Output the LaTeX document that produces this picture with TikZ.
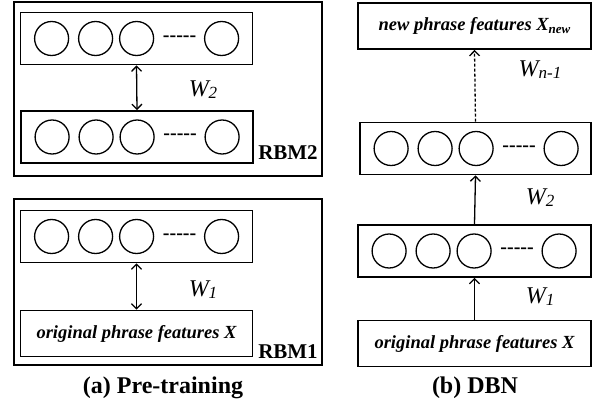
\documentclass[tikz,border=0pt]{standalone}
\usepackage{fontspec}
\setmainfont{Liberation Serif}
\usetikzlibrary{arrows.meta}
\tikzset{
  layer/.style={draw, line width=1.8pt, minimum width=232pt, minimum height=52pt, inner sep=0},
  inbox/.style={layer, minimum height=46pt, font=\fontsize{18.5}{18.5}\selectfont\bfseries\itshape},
  unit/.style={draw, circle, line width=1.3pt, minimum size=34pt, inner sep=0},
  frame/.style={draw, line width=1.8pt, inner sep=0},
  link/.style={line width=1.3pt, -{Straight Barb[length=5pt,width=10pt]}},
  wlabel/.style={font=\fontsize{24}{24}\selectfont\itshape},
  rbm/.style={font=\fontsize{21}{21}\selectfont\bfseries},
  caption/.style={font=\fontsize{24}{24}\selectfont\bfseries},
}
\newcommand{\wsub}[2]{#1\raisebox{-0.2ex}{\fontsize{17}{17}\selectfont #2}}
\begin{document}
\begin{tikzpicture}[x=1pt, y=-1pt]
\useasboundingbox (0,0) rectangle (597,407);
% (a) pre-training
\node[frame, minimum width=308pt, minimum height=174pt] (rbm2) at (168,89) {};
\node[frame, minimum width=308pt, minimum height=166pt] (rbm1) at (168,282) {};
\node[layer] (a2top) at (136.5,38.5) {};
\node[layer] (a2bot) at (137,137) {};
\node[layer] (a1top) at (136.5,236.5) {};
\node[inbox] (a1bot) at (136.5,333.5) {original phrase features X};
% (b) DBN
\node[inbox, minimum width=233pt] (b3) at (474.5,26) {new phrase features X\raisebox{-0.3ex}{\fontsize{13}{13}\selectfont new}};
\node[layer, minimum width=231pt] (b2) at (475.5,148.5) {};
\node[layer, minimum width=233pt] (b1) at (474.5,251) {};
\node[inbox, minimum width=233pt] (b0) at (474.5,343.5) {original phrase features X};
% hidden units
\foreach \b in {a2top,a2bot,a1top,b2,b1}{
  \foreach \dx/\k in {32/1,76/2,117/3,202/4}{
    \node[unit] (\b-\k) at ([xshift=\dx pt]\b.west) {};
  }
  \node[font=\fontsize{20}{20}\selectfont\bfseries] (\b-dots) at ([xshift=160pt]\b.west) {-{}-{}-{}-{}-};
}
% weights
\draw[link, {Straight Barb[length=5pt,width=10pt]}-{Straight Barb[length=5pt,width=10pt]}] (a2top.south) -- (a2bot.north);
\draw[link, {Straight Barb[length=5pt,width=10pt]}-{Straight Barb[length=5pt,width=10pt]}] (a1top.south) -- (a1bot.north);
\draw[link] (b0.north) -- (b1.south);
\draw[link] (b1.north) -- (b2.south);
\draw[link, dash pattern=on 3pt off 2pt] (b2.north) -- (b3.south);
\node[wlabel] (w2a) at (203,90) {\wsub{W}{2}};
\node[wlabel] (w1a) at (203,290) {\wsub{W}{1}};
\node[wlabel] (wnb) at (540,70) {\wsub{W}{n-1}};
\node[wlabel] (w2b) at (540,198) {\wsub{W}{2}};
\node[wlabel] (w1b) at (540,297) {\wsub{W}{1}};
\node[rbm] (rbm2l) at (288,153) {RBM2};
\node[rbm] (rbm1l) at (288,352) {RBM1};
\node[caption] (capa) at (163,388) {(a) Pre-training};
\node[caption] (capb) at (475,388) {(b) DBN};
\end{tikzpicture}
\end{document}
